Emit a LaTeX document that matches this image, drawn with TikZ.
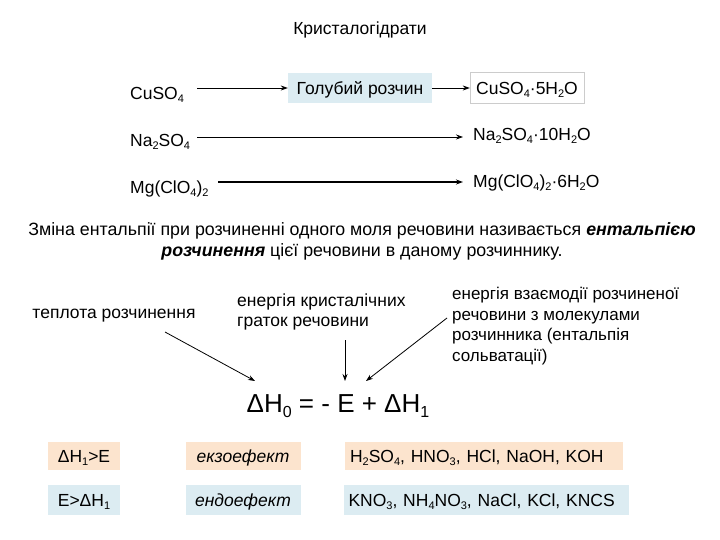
\documentclass[tikz,border=0pt]{standalone}
\usepackage{fontspec}
\setmainfont{Liberation Sans}
\usetikzlibrary{arrows.meta}
\definecolor{lblue}{RGB}{220,236,242}
\definecolor{lorange}{RGB}{252,228,206}
\newcommand{\lo}[1]{\raisebox{-0.35ex}{\fontsize{11}{11}\selectfont #1}}
\begin{document}
\begin{tikzpicture}[x=1pt,y=-1pt,
  every node/.style={font=\fontsize{17.5}{20}\selectfont,inner sep=0pt},
  arr/.style={-{Stealth[length=7pt,width=5pt]},line width=0.8pt},
  tb/.style={text height=13pt,text depth=0pt},
  orbox/.style={tb,fill=lorange,minimum height=28pt},
  blbox/.style={tb,fill=lblue,minimum height=30pt}]
\useasboundingbox (0,0) rectangle (720,540);
\node (title) at (360,30) {Кристалогідрати};
\node[anchor=west] (cu) at (130,95) {CuSO\lo{4}};
\node[tb,fill=lblue,minimum width=144pt,minimum height=30pt] (blue) at (360,88) {Голубий розчин};
\node[tb,draw=gray!40,minimum width=114pt,minimum height=31pt] (cuh) at (527,88) {CuSO\lo{4}·5H\lo{2}O};
\draw[arr] (197,88) -- (blue.west);
\draw[arr] (blue.east) -- (cuh.west);
\node[anchor=west] (na) at (130,142) {Na\lo{2}SO\lo{4}};
\node[anchor=west] (nah) at (473,136) {Na\lo{2}SO\lo{4}·10H\lo{2}O};
\draw[arr] (197,137) -- (463,137);
\node[anchor=west] (mg) at (130,189) {Mg(ClO\lo{4})\lo{2}};
\node[anchor=west] (mgh) at (473,183) {Mg(ClO\lo{4})\lo{2}·6H\lo{2}O};
\draw[arr,line width=1.6pt] (218,182) -- (463,182);
\node[align=center,font=\fontsize{17.8}{21}\selectfont] (par) at (362,241) {Зміна ентальпії при розчиненні одного моля речовини називається \textbf{\textit{ентальпією}}\\\textbf{\textit{розчинення}} цієї речовини в даному розчиннику.};
\node (t1) at (114,316) {теплота розчинення};
\node[align=left,anchor=west] (t2) at (237,312) {енергія кристалічних\\граток речовини};
\node[align=left,anchor=west,font=\fontsize{17}{20.5}\selectfont] (t3) at (452,326) {енергія взаємодії розчиненої\\речовини  з молекулами\\розчинника (ентальпія\\сольватації)};
\node[font=\fontsize{26}{28}\selectfont] (eq) at (338,406) {ΔH\raisebox{-0.35ex}{\fontsize{16}{16}\selectfont 0} = - E + ΔH\raisebox{-0.35ex}{\fontsize{16}{16}\selectfont 1}};
\coordinate (a1) at (165,332);
\coordinate (a2) at (345,340);
\coordinate (a3) at (447,318);
\draw[arr] (a1) -- (255,381);
\draw[arr] (a2) -- (345,381);
\draw[arr] (a3) -- (366,381);
\node[orbox,minimum width=72pt] (r11) at (84,456) {ΔH\lo{1}>E};
\node[orbox,minimum width=115pt] (r12) at (243,456) {\textit{екзоефект}};
\node[orbox,minimum width=278pt,text width=268pt,align=left] (r13) at (484,456) {H\lo{2}SO\lo{4}, HNO\lo{3}, HCl, NaOH, KOH};
\node[blbox,minimum width=72pt] (r21) at (84,500) {E>ΔH\lo{1}};
\node[blbox,minimum width=115pt] (r22) at (243,500) {\textit{ендоефект}};
\node[blbox,minimum width=285pt,text width=275pt,align=left] (r23) at (486,500) {KNO\lo{3}, NH\lo{4}NO\lo{3}, NaCl, KCl, KNCS};
\end{tikzpicture}
\end{document}
